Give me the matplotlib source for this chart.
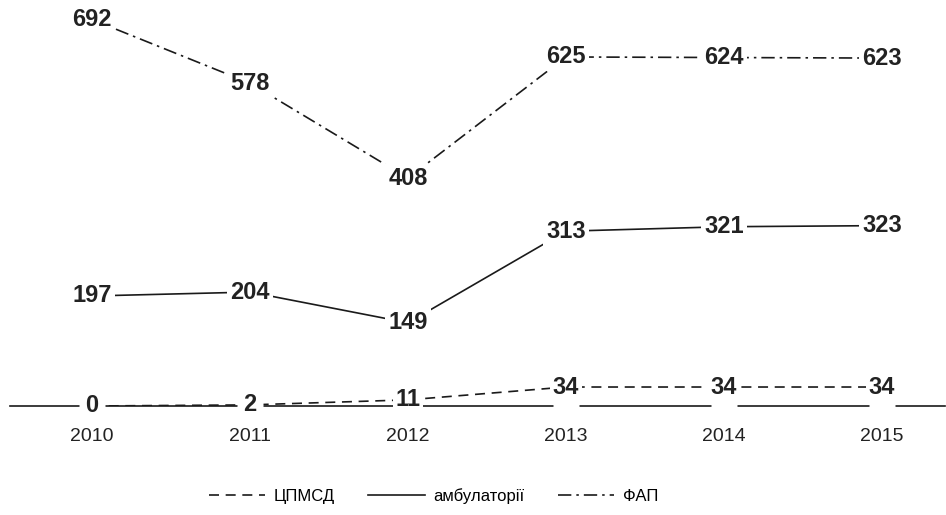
import matplotlib.pyplot as plt

# Daten
years = ["2010", "2011", "2012", "2013", "2014", "2015"]
cpmsd = [0, 2, 11, 34, 34, 34]
ambul = [197, 204, 149, 313, 321, 323]
fap = [692, 578, 408, 625, 624, 623]

plt.rcParams['font.family'] = ['Liberation Sans', 'DejaVu Sans']

fig = plt.figure(figsize=(9.46, 5.15), dpi=100)
ax = fig.add_axes([10/946, 109/515, 935/946, 406/515])

x = list(range(len(years)))
series = [
    (cpmsd, (0, (6, 4)), "ЦПМСД"),
    (ambul, "-", "амбулаторії"),
    (fap, (0, (8, 3, 1.5, 3)), "ФАП"),
]
for vals, ls, name in series:
    ax.plot(x, vals, color="#1a1a1a", lw=1.2, linestyle=ls, label=name, zorder=2)
    for xi, v in zip(x, vals):
        ax.text(xi, v, str(v), ha="center", va="center", fontsize=17,
                fontweight="bold", color="#222222", zorder=4,
                bbox=dict(facecolor="white", edgecolor="none", pad=2))

# Lücken in der Achsenlinie an den Kategorien
ax.plot(x, [0] * len(x), linestyle="none", marker="s", markersize=19,
        markerfacecolor="white", markeredgecolor="none", zorder=3,
        clip_on=False)

ax.set_xlim(-0.519, 5.399)
ax.set_ylim(0, 727)
ax.set_xticks(x)
ax.set_xticklabels(years, fontsize=14, color="#222222")
ax.tick_params(axis="x", length=0, pad=16)
ax.set_yticks([])
for s in ["top", "right", "left"]:
    ax.spines[s].set_visible(False)
ax.spines["bottom"].set_color("#1a1a1a")
ax.spines["bottom"].set_linewidth(1.2)
ax.spines["bottom"].set_zorder(1)
ax.patch.set_alpha(0)

fig.legend(loc="center", bbox_to_anchor=(0.458, 0.037), ncol=3, frameon=False,
           fontsize=12, handlelength=3.4, columnspacing=2.0, handletextpad=0.5)

fig.savefig("out.png", dpi=100)
